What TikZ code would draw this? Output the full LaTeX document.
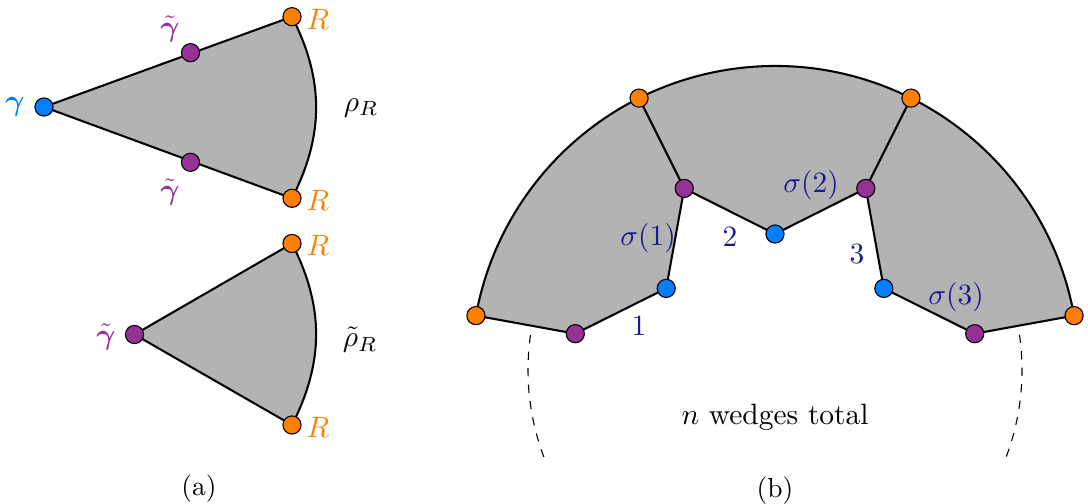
\RequirePackage{fix-cm}
\documentclass[tikz,border=0pt]{standalone}
\usepackage{bm}
\definecolor{cblue}{RGB}{0,128,255}
\definecolor{corange}{RGB}{255,128,0}
\definecolor{cpurple}{RGB}{150,50,150}
\definecolor{cnavy}{RGB}{26,26,140}
\definecolor{cgray}{RGB}{179,179,179}
\def\u{0.3636pt}
\tikzset{
  dot/.style={circle, draw=black, line width=0.4pt, inner sep=0pt, minimum size=6.6pt},
  bdot/.style={dot, fill=cblue},
  odot/.style={dot, fill=corange},
  pdot/.style={dot, fill=cpurple},
  wedgefill/.style={fill=cgray, draw=black, line width=0.75pt, line join=round},
  edgeline/.style={draw=black, line width=0.75pt},
  lab/.style={inner sep=0pt, font=\fontsize{10.7}{12.8}\selectfont},
  nlab/.style={lab, text=cnavy},
  captext/.style={inner sep=0pt}
}
\begin{document}
\begin{tikzpicture}[x=0.3636pt, y=0.3636pt]
\useasboundingbox (0,0) rectangle (1088,504);
% ---------- (a) top wedge ----------
\coordinate (g) at (44,397);
\coordinate (R1) at (292,487.3);
\coordinate (R2) at (292,305.7);
\coordinate (gt1) at (190.5,451.3);
\coordinate (gt2) at (190.5,341.7);
\path[wedgefill] (g) -- (R1) to[bend left=27] (R2) -- cycle;
\node[bdot] (ng) at (g) {};
\node[pdot] (ngt1) at (gt1) {};
\node[pdot] (ngt2) at (gt2) {};
\node[odot] (nR1) at (R1) {};
\node[odot] (nR2) at (R2) {};
\node[lab, text=cblue] (lg) at (15,397) {$\bm\gamma$};
\node[lab, text=cpurple] (lgt1) at (170,475) {$\tilde{\bm\gamma}$};
\node[lab, text=cpurple] (lgt2) at (170,312) {$\tilde{\bm\gamma}$};
\node[lab, text=corange] (lR1) at (318,485) {$R$};
\node[lab, text=corange] (lR2) at (318,304) {$R$};
\node[lab] (lrho) at (361,396) {$\rho_R$};
% ---------- (a) bottom wedge ----------
\coordinate (h) at (134.5,169.5);
\coordinate (R3) at (292,260.5);
\coordinate (R4) at (292,79);
\path[wedgefill] (h) -- (R3) to[bend left=27] (R4) -- cycle;
\node[pdot] (nh) at (h) {};
\node[odot] (nR3) at (R3) {};
\node[odot] (nR4) at (R4) {};
\node[lab, text=cpurple] (lh) at (106,167) {$\tilde{\bm\gamma}$};
\node[lab, text=corange] (lR3) at (318,259) {$R$};
\node[lab, text=corange] (lR4) at (318,77) {$R$};
\node[lab] (lrhot) at (360,164) {$\tilde\rho_R$};
\node[captext] (capa) at (199,15) {(a)};
% ---------- (b) ----------
\coordinate (C) at (775,134);
\coordinate (O1) at ([shift={(169.695:304)}]C);
\coordinate (O2) at ([shift={(116.565:304)}]C);
\coordinate (O3) at ([shift={(63.435:304)}]C);
\coordinate (O4) at ([shift={(10.305:304)}]C);
\coordinate (P1) at ([shift={(169.695:203)}]C);
\coordinate (P2) at ([shift={(116.565:203)}]C);
\coordinate (P3) at ([shift={(63.435:203)}]C);
\coordinate (P4) at ([shift={(10.305:203)}]C);
\coordinate (B1) at ([shift={(143.13:136)}]C);
\coordinate (B2) at ([shift={(90:136)}]C);
\coordinate (B3) at ([shift={(36.87:136)}]C);
\path[wedgefill] (O1) -- (P1) -- (B1) -- (P2) -- (B2) -- (P3) -- (B3) -- (P4) -- (O4)
  arc[start angle=10.305, end angle=169.695, radius=304*\u] -- cycle;
\draw[edgeline] (O2) -- (P2);
\draw[edgeline] (O3) -- (P3);
\coordinate (D1) at ([shift={(171.9:247)}]C);
\coordinate (D2) at ([shift={(8.2:247)}]C);
\draw[line width=0.4pt, dashed] (D1) arc[start angle=171.9, end angle=201.8, radius=247*\u];
\draw[line width=0.4pt, dashed] (D2) arc[start angle=8.2, end angle=-21.9, radius=247*\u];
\foreach \n in {O1,O2,O3,O4} \node[odot] (n\n) at (\n) {};
\foreach \n in {P1,P2,P3,P4} \node[pdot] (n\n) at (\n) {};
\foreach \n in {B1,B2,B3} \node[bdot] (n\n) at (\n) {};
\node[nlab] (s1) at (648,266) {$\sigma(1)$};
\node[nlab] (k2) at (730,267) {$2$};
\node[nlab] (k1) at (639,178) {$1$};
\node[nlab] (s2) at (811,319) {$\sigma(2)$};
\node[nlab] (k3) at (857,250) {$3$};
\node[nlab] (s3) at (956,207) {$\sigma(3)$};
\node[lab] (tot) at (775,87) {$n$ wedges total};
\node[captext] (capb) at (775,13) {(b)};
\end{tikzpicture}
\end{document}
